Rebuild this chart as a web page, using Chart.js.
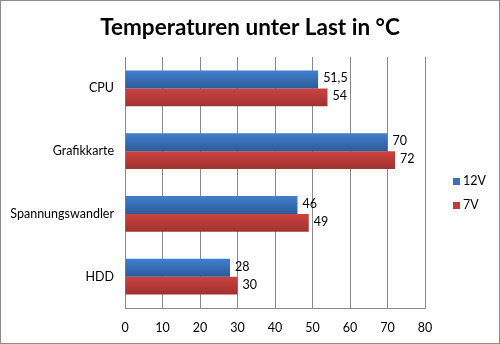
<!DOCTYPE html>
<html>
<head>
<meta charset="utf-8">
<script src="https://cdn.jsdelivr.net/npm/chart.js@4"></script>
<style>
  html, body { margin: 0; padding: 0; background: #fff; }
  #wrap { position: absolute; left: 0; top: 0; width: 498px; height: 342px; border: 1px solid #8c8c8c; }
</style>
</head>
<body>
<div id="wrap"><canvas id="chart" width="498" height="342"></canvas></div>
<script>
// Daten
const categories = ['CPU', 'Grafikkarte', 'Spannungswandler', 'HDD'];
const values12V = [51.5, 70, 46, 28];
const values7V = [54, 72, 49, 30];
const seriesNames = ['12V', '7V'];
const xTicks = [0, 10, 20, 30, 40, 50, 60, 70, 80];
const chartTitle = 'Temperaturen unter Last in °C';

const FONT = 'Lato, "Open Sans", sans-serif';
const colors = [
    { top: '#417fcf', bottom: '#2c5b98', flat: '#3a6fbe' },
    { top: '#cc423f', bottom: '#a0322f', flat: '#c03d3b' }
];

// Verlauf pro Balken (oben hell, unten dunkel)
const barGradient = {
    id: 'barGradient',
    beforeDatasetsDraw(chart) {
        const { ctx } = chart;
        chart.data.datasets.forEach((ds, i) => {
            chart.getDatasetMeta(i).data.forEach(bar => {
                const h = bar.height;
                const g = ctx.createLinearGradient(0, bar.y - h / 2, 0, bar.y + h / 2);
                g.addColorStop(0, colors[i].top);
                g.addColorStop(1, colors[i].bottom);
                bar.options = Object.assign({}, bar.options, { backgroundColor: g });
            });
        });
    }
};

// Titel, Werte und Legende
const annotations = {
    id: 'annotations',
    afterDraw(chart) {
        const { ctx } = chart;
        ctx.save();
        ctx.fillStyle = '#000';
        ctx.textBaseline = 'middle';

        ctx.font = 'bold 22.5px ' + FONT;
        ctx.textAlign = 'center';
        ctx.fillText(chartTitle, 249, 27);

        ctx.font = '12.5px ' + FONT;
        ctx.textAlign = 'left';
        chart.data.datasets.forEach((ds, i) => {
            chart.getDatasetMeta(i).data.forEach((bar, j) => {
                const txt = String(ds.data[j]).replace('.', ',');
                ctx.fillText(txt, bar.x + 5, bar.y - 1);
            });
        });

        seriesNames.forEach((name, i) => {
            const y = 180 + i * 24;
            ctx.fillStyle = colors[i].flat;
            ctx.fillRect(452, y - 3, 7, 7);
            ctx.fillStyle = '#000';
            ctx.fillText(name, 462, y);
        });
        ctx.restore();
    }
};

new Chart(document.getElementById('chart'), {
    type: 'bar',
    data: {
        labels: categories,
        datasets: [
            { label: seriesNames[0], data: values12V, backgroundColor: colors[0].flat },
            { label: seriesNames[1], data: values7V, backgroundColor: colors[1].flat }
        ]
    },
    options: {
        indexAxis: 'y',
        responsive: false,
        animation: false,
        categoryPercentage: 0.57,
        barPercentage: 1,
        layout: { padding: { left: 0, right: 74, top: 56, bottom: 5 } },
        scales: {
            x: {
                min: 0, max: 80,
                afterBuildTicks(axis) { axis.ticks = xTicks.map(v => ({ value: v })); },
                afterFit(axis) { axis.height = 30; },
                grid: { color: '#8a8a8a', drawTicks: false },
                border: { color: '#8a8a8a' },
                ticks: { color: '#000', font: { family: FONT, size: 12.5 }, padding: 12 }
            },
            y: {
                afterFit(axis) { axis.width = 124; },
                grid: { display: false, drawTicks: false },
                border: { color: '#8a8a8a' },
                ticks: { color: '#000', font: { family: FONT, size: 12.5 }, padding: 11 }
            }
        },
        plugins: {
            legend: { display: false },
            tooltip: { enabled: false }
        }
    },
    plugins: [barGradient, annotations]
});
</script>
</body>
</html>
